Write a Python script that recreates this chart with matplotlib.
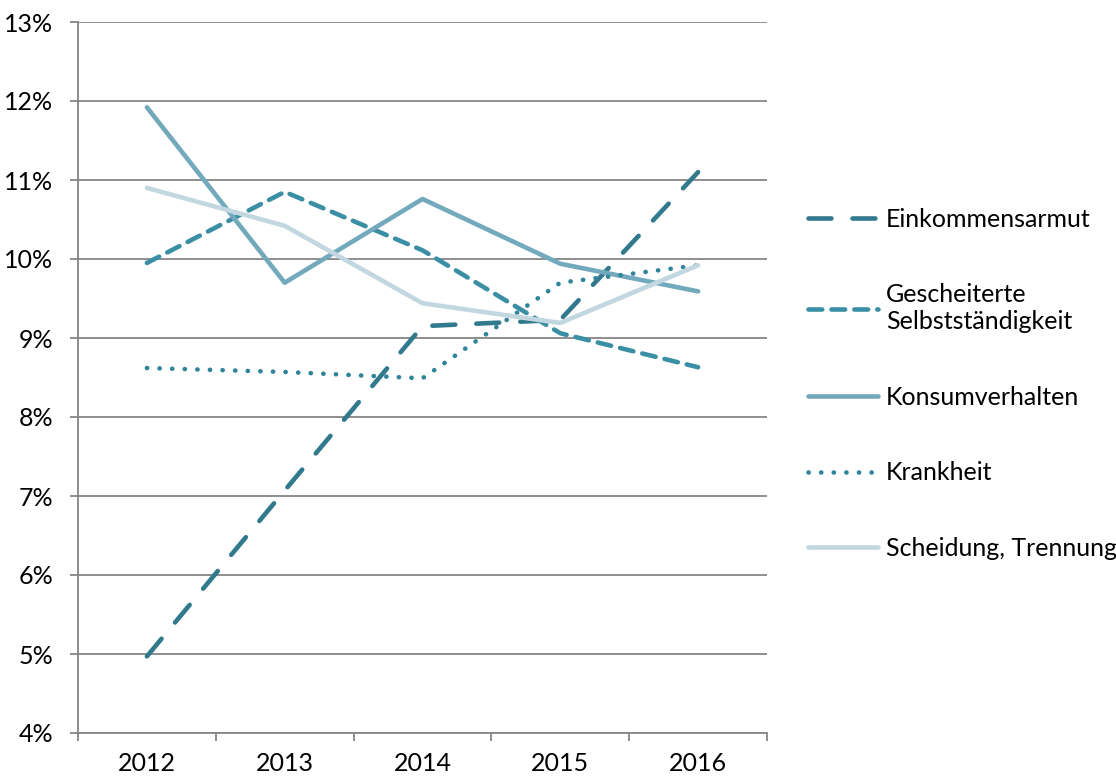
import matplotlib

matplotlib.use("Agg")
import matplotlib.pyplot as plt
from matplotlib.ticker import FixedLocator, NullFormatter, FuncFormatter

plt.rcParams["font.family"] = ["Lato", "DejaVu Sans"]

years = ["2012", "2013", "2014", "2015", "2016"]

einkommensarmut = [4.97, 7.07, 9.15, 9.23, 11.10]
gescheiterte = [9.95, 10.85, 10.11, 9.06, 8.63]
konsum = [11.92, 9.70, 10.76, 9.94, 9.59]
krankheit = [8.62, 8.57, 8.49, 9.70, 9.92]
scheidung = [10.90, 10.42, 9.44, 9.19, 9.92]

series = [
    ("Einkommensarmut", einkommensarmut, "#31798C", (0, (5.0, 4.6))),
    ("Gescheiterte\nSelbstständigkeit", gescheiterte, "#3B8FA4", (0, (3.0, 2.0))),
    ("Konsumverhalten", konsum, "#72A9BC", "-"),
    ("Krankheit", krankheit, "#2F8499", (0, (0.05, 2.7))),
    ("Scheidung, Trennung", scheidung, "#C3D7E0", "-"),
]

fig = plt.figure(figsize=(11.16, 7.78), dpi=100)
ax = fig.add_axes([78 / 1116, 45 / 778, 689 / 1116, 711 / 778])

x = list(range(len(years)))
for label, vals, color, ls in series:
    ax.plot(x, vals, color=color, linestyle=ls, linewidth=3.3, label=label,
            dash_capstyle="round", solid_capstyle="round")

ax.set_xlim(-0.5, len(years) - 0.5)
ax.set_ylim(4, 13)
ax.set_yticks(range(4, 14))
ax.yaxis.set_major_formatter(FuncFormatter(lambda v, p: f"{int(v)}%"))
ax.yaxis.grid(True, color="#868686", linewidth=1.3)
ax.set_axisbelow(True)

ax.xaxis.set_major_locator(FixedLocator([i - 0.5 for i in range(len(years) + 1)]))
ax.xaxis.set_major_formatter(NullFormatter())
ax.xaxis.set_minor_locator(FixedLocator(x))
ax.set_xticklabels(years, minor=True)
ax.tick_params(axis="x", which="minor", length=0, pad=14, labelsize=18)
ax.tick_params(axis="x", which="major", length=6, color="#868686", width=1.3)
ax.tick_params(axis="y", length=6, color="#868686", width=1.3, pad=12, labelsize=18)

for side in ["top", "right"]:
    ax.spines[side].set_visible(False)
for side in ["left", "bottom"]:
    ax.spines[side].set_color("#868686")
    ax.spines[side].set_linewidth(1.3)

fig.legend(loc="upper left", bbox_to_anchor=(808 / 1116, 570 / 778), frameon=False,
           fontsize=18, handlelength=2.8, handletextpad=0.32, labelspacing=2.1,
           borderpad=0, borderaxespad=0)

fig.savefig("out.png", dpi=100)
